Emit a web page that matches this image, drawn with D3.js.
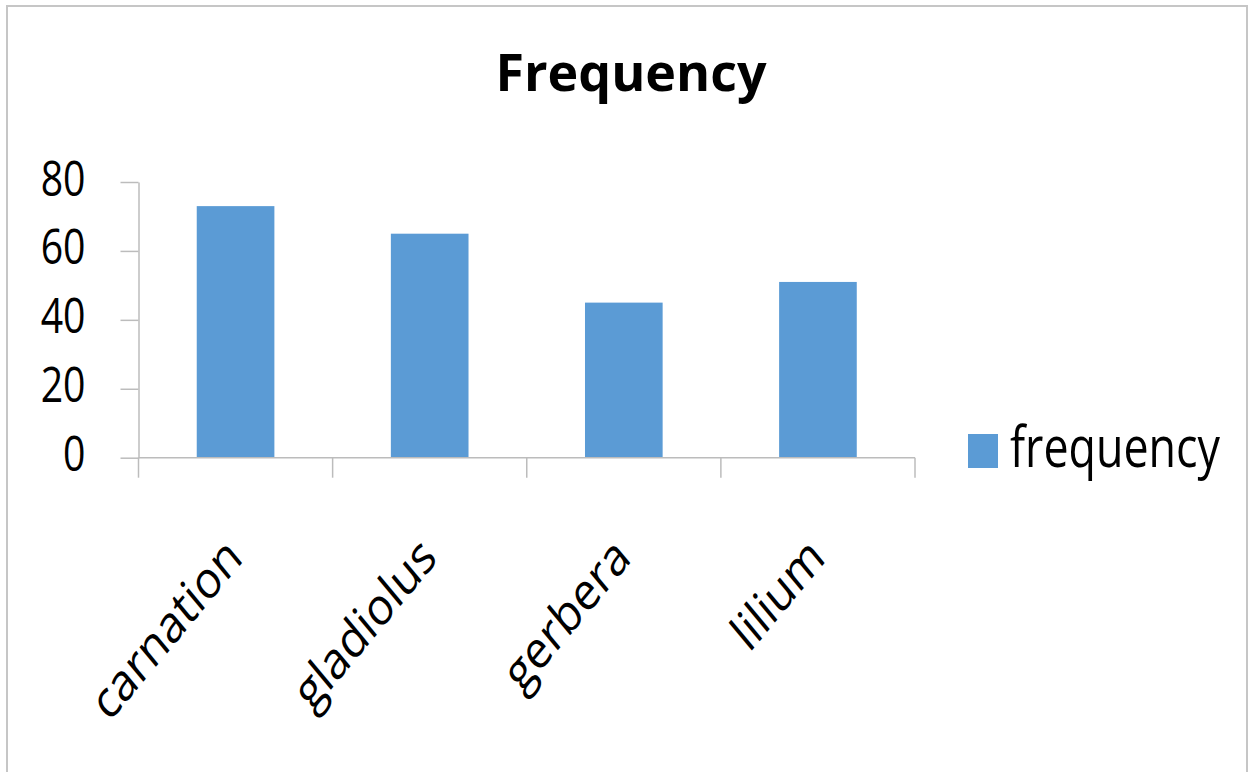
<!DOCTYPE html>
<html>
<head>
<meta charset="utf-8">
<script src="https://cdn.jsdelivr.net/npm/d3@7"></script>
<style>
  body { margin: 0; background: #fff; }
  text { font-family: "Open Sans", sans-serif; fill: #000; }
</style>
</head>
<body>
<script>
// chart data
var categories = ["carnation", "gladiolus", "gerbera", "lilium"];
var values = [73, 65, 45, 51];
var yTicks = [0, 20, 40, 60, 80];
var seriesName = "frequency";
var title = "Frequency";

var W = 1250, H = 772;
var axisColor = "#bcbcbc",
    barColor = "#5b9bd5";

var svg = d3.select("body").append("svg")
    .attr("width", W)
    .attr("height", H);

// outer chart border
svg.append("rect")
    .attr("x", 7).attr("y", 6)
    .attr("width", 1240).attr("height", 790)
    .attr("fill", "none")
    .attr("stroke", "#c6c6c6")
    .attr("stroke-width", 2);

var plot = {left: 138.5, right: 915, top: 182, bottom: 457.7};

var x = d3.scaleBand()
    .domain(categories)
    .range([plot.left, plot.right])
    .paddingInner(0.6)
    .paddingOuter(0.3);

var y = d3.scaleLinear()
    .domain([0, 80])
    .range([plot.bottom, plot.top]);

// title
svg.append("text")
    .attr("x", 631)
    .attr("y", 91)
    .attr("text-anchor", "middle")
    .style("font-size", "52px")
    .style("font-weight", "bold")
    .text(title);

// bars
svg.selectAll("rect.bar")
    .data(values)
  .enter().append("rect")
    .attr("class", "bar")
    .attr("x", function(d, i) { return x(categories[i]); })
    .attr("y", function(d) { return y(d); })
    .attr("width", x.bandwidth())
    .attr("height", function(d) { return y(0) - y(d); })
    .attr("fill", barColor);

// y axis
var sxY = 0.8;
var yAxis = svg.append("g")
    .attr("transform", "translate(" + plot.left + ",0)")
    .call(d3.axisLeft(y).tickValues(yTicks).tickSize(18).tickPadding(0).tickSizeOuter(0));

yAxis.select(".domain").attr("stroke", axisColor).attr("stroke-width", 1.5);
yAxis.selectAll(".tick line").attr("stroke", axisColor).attr("stroke-width", 1.5);
yAxis.selectAll(".tick text")
    .attr("x", -53 / sxY)
    .attr("dy", "13px")
    .attr("transform", "scale(" + sxY + ",1)")
    .attr("text-anchor", "end")
    .style("font-size", "49px")
    .style("font-family", "'Open Sans', sans-serif")
    .attr("fill", "#000");

// x axis line and category boundary ticks
var step = x.step();
var bounds = categories.map(function(c) { return x(c) - step * x.paddingInner() / 2; });
bounds.push(plot.right);

var xAxis = svg.append("g");
xAxis.append("line")
    .attr("x1", plot.left).attr("x2", plot.right)
    .attr("y1", y(0)).attr("y2", y(0))
    .attr("stroke", axisColor).attr("stroke-width", 1.5);
xAxis.selectAll("line.tick")
    .data(bounds)
  .enter().append("line")
    .attr("class", "tick")
    .attr("x1", function(d) { return d; }).attr("x2", function(d) { return d; })
    .attr("y1", y(0)).attr("y2", y(0) + 20)
    .attr("stroke", axisColor).attr("stroke-width", 1.5);

// rotated category labels (picture is squeezed sideways, so scale after rotating)
xAxis.selectAll("text.cat")
    .data(categories)
  .enter().append("text")
    .attr("class", "cat")
    .attr("text-anchor", "end")
    .attr("transform", function(d) {
      var cx = x(d) + x.bandwidth() / 2;
      return "translate(" + (cx + 9) + ",560) scale(0.83,1) rotate(-45)";
    })
    .style("font-size", "52px")
    .text(function(d) { return d; });

// legend
var legend = svg.append("g");
legend.append("rect")
    .attr("x", 968).attr("y", 434)
    .attr("width", 30).attr("height", 34)
    .attr("fill", barColor);
legend.append("text")
    .attr("transform", "translate(1010,467) scale(0.8,1)")
    .style("font-size", "56px")
    .text(seriesName);
</script>
</body>
</html>
